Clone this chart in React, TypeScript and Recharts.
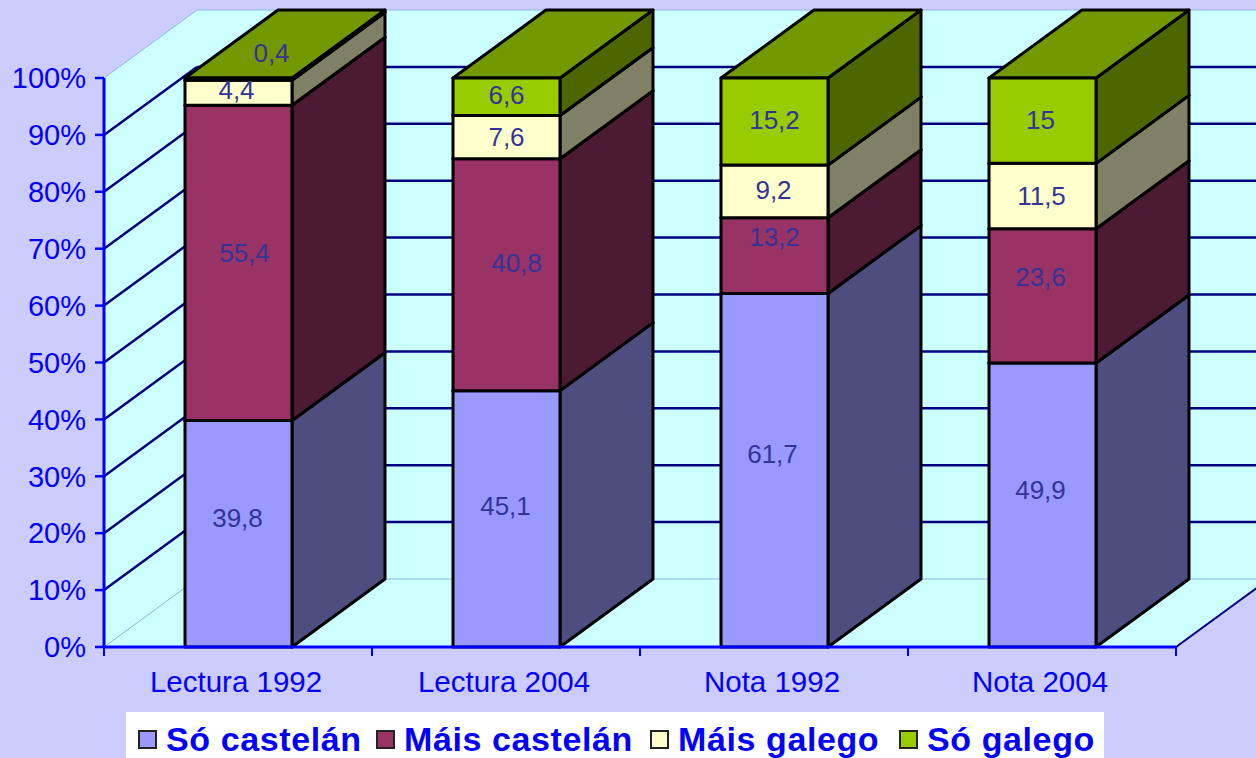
import React from "react";
import { BarChart, Bar, XAxis, YAxis, LabelList, Legend, ReferenceArea, ReferenceLine } from "recharts";

const categories = ["Lectura 1992", "Lectura 2004", "Nota 1992", "Nota 2004"];
const soCastelan = [39.8, 45.1, 61.7, 49.9];
const maisCastelan = [55.4, 40.8, 13.2, 23.6];
const maisGalego = [4.4, 7.6, 9.2, 11.5];
const soGalego = [0.4, 6.6, 15.2, 15];
const yTicks = [0, 0.1, 0.2, 0.3, 0.4, 0.5, 0.6, 0.7, 0.8, 0.9, 1];

const rows = categories.map((name, i) => ({
  name,
  soCastelan: soCastelan[i],
  maisCastelan: maisCastelan[i],
  maisGalego: maisGalego[i],
  soGalego: soGalego[i],
}));

// the labels in the picture were dragged around by hand, so nudge them
const labelNudge: Record<string, [number, number]> = {
  "39,8": [-1, -16], "45,1": [-1, -13], "61,7": [-2, -16], "49,9": [-2, -15],
  "55,4": [6, -10], "40,8": [10, -12], "13,2": [0, -19], "23,6": [-2, -19],
  "4,4": [-2, -3], "7,6": [0, 0], "9,2": [-1, -1], "11,5": [-1, 0],
  "0,4": [33, -26], "6,6": [0, -2], "15,2": [0, -2], "15": [-2, -1],
};

const W = 1256;
const H = 758;
const LEFT = 104;
const RIGHT = 1176;
const TOP = 78;
const BOTTOM = 647;
const DX = 93;
const DY = 68;
const BAND = (RIGHT - LEFT) / categories.length;
const BLUE = "#0000FF";
const NAVY = "#000080";
const WALL = "#CCFFFF";
const PALE = "#8FB8E0";
const FONT = "'Liberation Sans', Arial, sans-serif";
const LEGEND_SLOTS = [238, 274, 249, 200];

function shade(hex: string, k: number) {
  const n = parseInt(hex.slice(1), 16);
  const c = [(n >> 16) & 255, (n >> 8) & 255, n & 255].map((v) => Math.round(v * k));
  return `rgb(${c[0]},${c[1]},${c[2]})`;
}

function Box3D({ x, y, width, height, fill }: any) {
  const r = x + width;
  const b = y + height;
  return (
    <g stroke="#000" strokeWidth={3} strokeLinejoin="round">
      <polygon points={`${r},${y} ${r + DX},${y - DY} ${r + DX},${b - DY} ${r},${b}`} fill={shade(fill, 0.5)} />
      <polygon points={`${x},${y} ${x + DX},${y - DY} ${r + DX},${y - DY} ${r},${y}`} fill={shade(fill, 0.75)} />
      <rect x={x} y={y} width={width} height={height} fill={fill} />
    </g>
  );
}

function Walls({ x, y, width, height }: any) {
  const bottom = y + height;
  const right = x + width;
  return (
    <g>
      <polygon points={`${x},${y} ${x + DX},${y - DY} ${x + DX},${bottom - DY} ${x},${bottom}`} fill={WALL} />
      <rect x={x + DX} y={y - DY} width={width} height={height} fill={WALL} />
      <polygon points={`${x},${bottom} ${x + DX},${bottom - DY} ${right + DX},${bottom - DY} ${right},${bottom}`} fill={WALL} />
      <line x1={right} y1={bottom} x2={right + DX} y2={bottom - DY} stroke={NAVY} strokeWidth={2} />
    </g>
  );
}

function GridLine({ x1, y1, x2 }: any) {
  const edge = y1 <= TOP + 1 || y1 >= BOTTOM - 1;
  return (
    <g stroke={edge ? PALE : NAVY} strokeWidth={edge ? 1 : 2.5}>
      <line x1={x1} y1={y1} x2={x1 + DX} y2={y1 - DY} />
      <line x1={x1 + DX} y1={y1 - DY} x2={x2 + DX} y2={y1 - DY} />
    </g>
  );
}

function BandTick({ x, payload, index }: any) {
  return (
    <g>
      <line x1={x - BAND / 2} y1={BOTTOM} x2={x - BAND / 2} y2={BOTTOM + 9} stroke={BLUE} strokeWidth={2} />
      {index === categories.length - 1 && (
        <line x1={x + BAND / 2} y1={BOTTOM} x2={x + BAND / 2} y2={BOTTOM + 9} stroke={BLUE} strokeWidth={2} />
      )}
      <text x={x - 2} y={BOTTOM + 45} textAnchor="middle" fill={BLUE} fontSize={29.5} fontFamily={FONT}>
        {payload.value}
      </text>
    </g>
  );
}

function BarLabel({ x, y, width, height, value }: any) {
  const text = String(value).replace(".", ",");
  const [nx, ny] = labelNudge[text] || [0, 0];
  return (
    <text
      x={x + width / 2 + nx}
      y={y + height / 2 + ny}
      textAnchor="middle"
      dominantBaseline="central"
      fill="#333399"
      fontSize={26}
      fontFamily={FONT}
    >
      {text}
    </text>
  );
}

function LegendBox({ payload }: any) {
  return (
    <div style={{ display: "flex", alignItems: "center", height: 46, background: "#fff", padding: "9px 0 0 12px", boxSizing: "border-box" }}>
      {(payload || []).map((p: any, i: number) => (
        <div key={p.value} style={{ display: "flex", alignItems: "center", width: LEGEND_SLOTS[i], flex: "none" }}>
          <span style={{ width: 15, height: 15, flex: "none", background: p.color, border: "2px solid #222", marginRight: 9 }} />
          <span style={{ fontFamily: FONT, fontWeight: 700, fontSize: 34, color: BLUE, letterSpacing: 0.6, whiteSpace: "nowrap" }}>{p.value}</span>
        </div>
      ))}
    </div>
  );
}

const series = [
  { key: "soCastelan", name: "Só castelán", fill: "#9999FF" },
  { key: "maisCastelan", name: "Máis castelán", fill: "#993366" },
  { key: "maisGalego", name: "Máis galego", fill: "#FFFFCC" },
  { key: "soGalego", name: "Só galego", fill: "#99CC00" },
];

export default function App() {
  return (
    <div style={{ position: "fixed", left: 0, top: 0, width: W, height: H, background: "#CCCCFF", overflow: "hidden" }}>
      <BarChart
        width={W}
        height={H}
        data={rows}
        stackOffset="expand"
        barSize={107}
        margin={{ top: TOP, right: W - RIGHT, bottom: 0, left: 0 }}
      >
        <ReferenceArea y1={0} y2={1} ifOverflow="visible" shape={Walls} />
        {yTicks.map((t) => (
          <ReferenceLine key={t} y={t} ifOverflow="visible" shape={GridLine} zIndex={200} />
        ))}
        <XAxis
          dataKey="name"
          interval={0}
          height={H - BOTTOM - 46}
          tickLine={false}
          axisLine={{ stroke: BLUE, strokeWidth: 3 }}
          tick={BandTick}
        />
        <YAxis
          type="number"
          domain={[0, 1]}
          ticks={yTicks}
          width={LEFT}
          tickSize={9}
          tickMargin={9}
          interval={0}
          tickFormatter={(v: number) => `${Math.round(v * 100)}%`}
          axisLine={{ stroke: BLUE, strokeWidth: 3 }}
          tickLine={{ stroke: BLUE, strokeWidth: 2.5 }}
          tick={{ fill: BLUE, fontSize: 29, fontFamily: FONT }}
        />
        {series.map((s) => (
          <Bar key={s.key} dataKey={s.key} name={s.name} stackId="a" fill={s.fill} shape={Box3D} isAnimationActive={false}>
            <LabelList dataKey={s.key} content={BarLabel} />
          </Bar>
        ))}
        <Legend
          itemSorter={null as any}
          content={LegendBox}
          wrapperStyle={{ left: 126, top: 712, bottom: "auto", width: 978, height: 46 }}
        />
      </BarChart>
    </div>
  );
}
